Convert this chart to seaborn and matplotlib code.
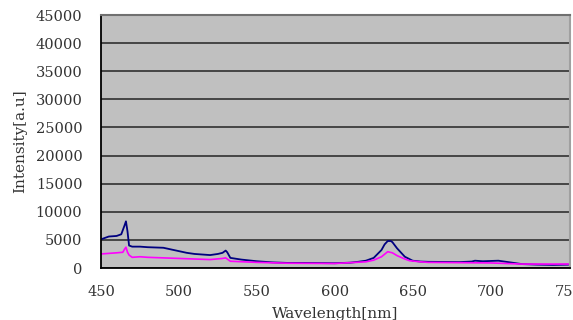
import matplotlib
matplotlib.use("Agg")
import matplotlib.pyplot as plt
import seaborn as sns
import pandas as pd

blue_x = [450, 452, 455, 460, 463, 465, 466, 467, 468, 470, 475, 480, 490, 500, 505, 510, 515, 520, 525, 528, 530, 531, 533, 540, 550, 560, 570, 580, 600, 610, 615, 620, 625, 630, 632, 634, 636, 637, 640, 643, 645, 650, 655, 660, 680, 688, 690, 695, 705, 710, 715, 720, 730, 740, 750]
blue_y = [5100, 5300, 5600, 5700, 6000, 7500, 8300, 6500, 4000, 3800, 3800, 3700, 3600, 3000, 2700, 2500, 2400, 2300, 2500, 2700, 3100, 2800, 1800, 1500, 1200, 1000, 900, 900, 850, 950, 1100, 1300, 1800, 3200, 4200, 4800, 4800, 4600, 3500, 2600, 2000, 1300, 1150, 1100, 1050, 1150, 1300, 1200, 1300, 1100, 900, 700, 600, 550, 600]
mag_x = [450, 455, 460, 464, 465, 466, 467, 468, 470, 475, 480, 500, 520, 528, 530, 531, 533, 550, 570, 600, 620, 625, 630, 634, 637, 640, 645, 648, 655, 660, 700, 710, 720, 750]
mag_y = [2500, 2600, 2700, 2800, 3300, 3700, 2800, 2300, 1900, 2000, 1900, 1700, 1500, 1700, 1800, 1600, 1200, 1000, 850, 800, 1100, 1400, 2000, 2900, 2700, 2200, 1600, 1300, 1100, 1000, 900, 800, 700, 700]
x_ticks = [450, 500, 550, 600, 650, 700, 750]
y_ticks = [0, 5000, 10000, 15000, 20000, 25000, 30000, 35000, 40000, 45000]

sns.set_style("white")
plt.rcParams['font.family'] = ['DejaVu Serif']

fig = plt.figure(figsize=(5.73, 3.2), dpi=100)
ax = fig.add_axes([0.1763, 0.1625, 0.8185, 0.7905])
ax.set_facecolor('#C0C0C0')

df_b = pd.DataFrame({'x': blue_x, 'y': blue_y})
df_m = pd.DataFrame({'x': mag_x, 'y': mag_y})
sns.lineplot(data=df_b, x='x', y='y', ax=ax, color='#000080', linewidth=1.3)
sns.lineplot(data=df_m, x='x', y='y', ax=ax, color='#FF00FF', linewidth=1.2)

ax.set_xlim(450, 751)
ax.set_ylim(0, 45000)
ax.set_xticks(x_ticks)
ax.set_yticks(y_ticks)
ax.set_xticklabels([str(v) for v in x_ticks])
ax.set_yticklabels([str(v) for v in y_ticks])
ax.grid(axis='y', color='#3c3c3c', linewidth=1.3)
ax.set_axisbelow(True)
ax.spines['top'].set_color('#707070')
ax.spines['top'].set_linewidth(1.5)
ax.spines['right'].set_color('#a0a0a0')
ax.spines['right'].set_linewidth(1.5)
for s in ['left', 'bottom']:
    ax.spines[s].set_color('black')
    ax.spines[s].set_linewidth(1.3)
ax.tick_params(axis='x', direction='in', length=5, width=1, color='black', labelsize=10.5, pad=12, colors='#333333')
ax.tick_params(axis='y', direction='out', length=3, width=1, color='black', labelsize=10.5, pad=10.5, colors='#333333')
ax.set_xlabel('Wavelength[nm]', fontsize=11, labelpad=6, color='#333333')
ax.set_ylabel('Intensity[a.u]', fontsize=11, labelpad=6, color='#333333')
fig.savefig('out.png', dpi=100)
